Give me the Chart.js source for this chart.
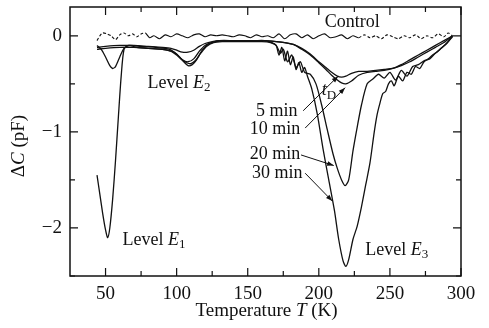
<!DOCTYPE html>
<html>
<head>
<meta charset="utf-8">
<script src="https://cdn.jsdelivr.net/npm/chart.js@4.4.1/dist/chart.umd.min.js"></script>
<style>
  body { margin: 0; background: #fff; }
</style>
</head>
<body>
<canvas id="myChart" width="489" height="328"></canvas>
<script>
// temperature grids (K) and capacitance change (pF)
const ctrlT = [44, 46, 48, 51, 54, 57, 60, 63, 66, 69, 72, 75, 78, 81, 84, 88, 92, 96, 100, 104,
  108, 112, 116, 120, 124, 128, 132, 136, 140, 144, 148, 152, 156, 160, 164, 168, 172, 176, 180, 184,
  188, 192, 196, 200, 204, 208, 212, 216, 220, 224, 228, 232, 236, 240, 244, 248, 252, 256, 260, 264,
  268, 272, 276, 280, 284, 288, 291, 294];
const ctrlV = [-0.05, 0.0, 0.03, 0.02, 0.0, -0.04, 0.01, 0.03, 0.0, 0.02, -0.01, 0.02, 0.03, -0.02, 0.0, -0.03, 0.01, -0.01, 0.02, 0.0,
  -0.02, 0.01, 0.02, -0.01, 0.01, 0.0, 0.01, 0.0, -0.01, 0.01, 0.0, -0.02, 0.01, -0.01, 0.0, -0.02, 0.02, -0.03, 0.01, 0.02,
  -0.02, 0.01, -0.03, 0.0, 0.02, -0.02, -0.01, 0.01, -0.03, 0.0, -0.02, 0.01, -0.02, 0.0, -0.03, 0.01, -0.01, -0.03, 0.0, -0.02,
  0.01, -0.03, 0.0, -0.02, 0.02, -0.01, 0.03, 0.0];

const tShort = [44, 50, 60, 70, 80, 90, 96, 100, 104, 108, 112, 116, 120, 125, 130, 140, 150, 160, 170, 176,
  182, 188, 194, 200, 205, 209, 213, 216, 219, 223, 228, 234, 240, 246, 252, 258, 264, 270, 276, 282, 288, 294];
const v5min = [-0.12, -0.11, -0.1, -0.1, -0.11, -0.12, -0.13, -0.15, -0.17, -0.17, -0.15, -0.11, -0.08, -0.06, -0.05, -0.05, -0.05, -0.05, -0.06, -0.07,
  -0.09, -0.13, -0.19, -0.27, -0.33, -0.38, -0.42, -0.43, -0.42, -0.39, -0.37, -0.37, -0.36, -0.35, -0.34, -0.31, -0.27, -0.22, -0.17, -0.12, -0.07, 0.0];
const v10min = [-0.14, -0.13, -0.12, -0.12, -0.13, -0.14, -0.16, -0.2, -0.25, -0.27, -0.24, -0.16, -0.1, -0.07, -0.05, -0.05, -0.05, -0.05, -0.06, -0.07,
  -0.09, -0.14, -0.2, -0.28, -0.35, -0.41, -0.46, -0.49, -0.5, -0.47, -0.41, -0.38, -0.37, -0.36, -0.34, -0.3, -0.25, -0.2, -0.15, -0.1, -0.05, 0.0];

const t20 = [44, 47, 50, 53, 55, 57, 60, 63, 67, 75, 85, 95, 100, 104, 107, 110, 113, 117, 121, 126,
  132, 140, 150, 160, 166, 170, 173, 175, 178, 181, 184, 187, 190, 194, 198, 202, 206, 210, 213, 216,
  218.5, 221, 224, 227, 230, 234, 238, 242, 246, 250, 254, 258, 262, 266, 270, 274, 278, 282, 286, 290, 294];
const v20min = [-0.1, -0.14, -0.22, -0.31, -0.34, -0.32, -0.22, -0.13, -0.1, -0.11, -0.12, -0.14, -0.19, -0.25, -0.28, -0.29, -0.26, -0.18, -0.11, -0.07,
  -0.06, -0.06, -0.06, -0.06, -0.07, -0.1, -0.18, -0.14, -0.27, -0.2, -0.33, -0.27, -0.38, -0.4, -0.5, -0.72, -0.98, -1.23, -1.38, -1.5,
  -1.56, -1.5, -1.2, -0.95, -0.72, -0.5, -0.45, -0.4, -0.44, -0.38, -0.46, -0.36, -0.42, -0.32, -0.3, -0.26, -0.24, -0.18, -0.13, -0.08, -0.01];

const t30 = [44, 46, 48, 50, 51.5, 53, 55, 57, 59, 61, 63, 66, 72, 80, 90, 98, 102, 105, 108, 111,
  114, 118, 122, 127, 135, 145, 155, 162, 167, 170, 172, 174, 176, 178, 180, 182, 184, 186, 188, 190,
  192, 195, 199, 203, 207, 211, 214, 217, 219, 221, 224, 227, 230, 233, 236, 239, 241, 243, 245, 247,
  249, 251, 253, 256, 259, 262, 265, 268, 271, 274, 277, 280, 283, 286, 289, 292, 294];
const v30min = [-1.45, -1.65, -1.85, -2.02, -2.1, -2.0, -1.7, -1.3, -0.85, -0.42, -0.14, -0.1, -0.12, -0.13, -0.14, -0.17, -0.22, -0.27, -0.31, -0.3,
  -0.25, -0.15, -0.09, -0.06, -0.05, -0.05, -0.05, -0.05, -0.07, -0.1, -0.2, -0.12, -0.26, -0.16, -0.3, -0.22, -0.35, -0.28, -0.38, -0.33,
  -0.42, -0.55, -0.82, -1.18, -1.5, -1.82, -2.12, -2.34, -2.4, -2.33, -2.12, -1.98, -1.78, -1.55, -1.32, -1.0, -0.82, -0.7, -0.6, -0.58,
  -0.5, -0.47, -0.52, -0.42, -0.47, -0.38, -0.4, -0.32, -0.34, -0.27, -0.24, -0.2, -0.17, -0.13, -0.09, -0.04, 0.0];

const xMajor = [50, 100, 150, 200, 250, 300];
const xMinor = [75, 125, 175, 225, 275];
const yMajor = [-2, -1, 0];
const yMinor = [-2.5, -1.5, -0.5];

const SERIF = '"Liberation Serif", "DejaVu Serif", serif';

function pairs(xs, ys) {
  const out = [];
  for (let i = 0; i < Math.min(xs.length, ys.length); i++) out.push({ x: xs[i], y: ys[i] });
  return out;
}

// text pieces: [text, style] with style 'n', 'i' (italic) or 's' (subscript)
function richText(c, parts, x, y, align, size) {
  const fonts = { n: size + 'px ' + SERIF, i: 'italic ' + size + 'px ' + SERIF, s: Math.round(size * 0.7) + 'px ' + SERIF };
  let w = 0;
  parts.forEach(p => { c.font = fonts[p[1]]; w += c.measureText(p[0]).width; });
  let cx = align === 'right' ? x - w : align === 'center' ? x - w / 2 : x;
  parts.forEach(p => {
    c.font = fonts[p[1]];
    c.fillText(p[0], cx, p[1] === 's' ? y + size * 0.25 : y);
    cx += c.measureText(p[0]).width;
  });
}

const labels = [
  { T: 223.5, v: 0.14, align: 'center', parts: [['Control', 'n']] },
  { T: 79.5, v: -0.49, align: 'left', parts: [['Level ', 'n'], ['E', 'i'], ['2', 's']] },
  { T: 202, v: -0.57, align: 'left', parts: [['t', 'i'], ['D', 's']] },
  { T: 185, v: -0.79, align: 'right', parts: [['5 min', 'n']] },
  { T: 187, v: -0.97, align: 'right', parts: [['10 min', 'n']] },
  { T: 187, v: -1.23, align: 'right', parts: [['20 min', 'n']] },
  { T: 188.5, v: -1.43, align: 'right', parts: [['30 min', 'n']] },
  { T: 62, v: -2.13, align: 'left', parts: [['Level ', 'n'], ['E', 'i'], ['1', 's']] },
  { T: 232.6, v: -2.23, align: 'left', parts: [['Level ', 'n'], ['E', 'i'], ['3', 's']] }
];
const arrows = [
  { from: [189, -0.78], to: [213.6, -0.42] },
  { from: [190.4, -0.96], to: [218.5, -0.54] },
  { from: [187.5, -1.24], to: [210.5, -1.35] },
  { from: [190.4, -1.43], to: [209.5, -1.72] }
];

const decor = {
  id: 'decor',
  afterDraw(chart) {
    const c = chart.ctx, a = chart.chartArea;
    const xs = chart.scales.x, ys = chart.scales.y;
    c.save();
    c.strokeStyle = '#111';
    c.lineWidth = 1.5;
    c.strokeRect(a.left, a.top, a.right - a.left, a.bottom - a.top);
    c.lineWidth = 1.2;
    const tick = (vals, len, axis) => vals.forEach(v => {
      c.beginPath();
      if (axis === 'x') {
        const p = xs.getPixelForValue(v);
        c.moveTo(p, a.bottom); c.lineTo(p, a.bottom - len);
        c.moveTo(p, a.top); c.lineTo(p, a.top + len);
      } else {
        const p = ys.getPixelForValue(v);
        c.moveTo(a.left, p); c.lineTo(a.left + len, p);
        c.moveTo(a.right, p); c.lineTo(a.right - len, p);
      }
      c.stroke();
    });
    tick(xMajor, 8, 'x'); tick(xMinor, 5, 'x');
    tick(yMajor, 8, 'y'); tick(yMinor, 5, 'y');

    c.fillStyle = '#111';
    c.textBaseline = 'middle';
    labels.forEach(l => richText(c, l.parts, xs.getPixelForValue(l.T), ys.getPixelForValue(l.v), l.align, 18));

    c.lineWidth = 1;
    arrows.forEach(ar => {
      const x0 = xs.getPixelForValue(ar.from[0]), y0 = ys.getPixelForValue(ar.from[1]);
      const x1 = xs.getPixelForValue(ar.to[0]), y1 = ys.getPixelForValue(ar.to[1]);
      const ang = Math.atan2(y1 - y0, x1 - x0);
      c.beginPath(); c.moveTo(x0, y0); c.lineTo(x1, y1); c.stroke();
      c.beginPath();
      c.moveTo(x1, y1);
      c.lineTo(x1 - 7 * Math.cos(ang - 0.35), y1 - 7 * Math.sin(ang - 0.35));
      c.lineTo(x1 - 7 * Math.cos(ang + 0.35), y1 - 7 * Math.sin(ang + 0.35));
      c.closePath(); c.fill();
    });

    // axis titles
    c.textBaseline = 'middle';
    richText(c, [['Temperature ', 'n'], ['T', 'i'], [' (K)', 'n']], (a.left + a.right) / 2 + 1, 311, 'center', 19);
    c.translate(19, 146);
    c.rotate(-Math.PI / 2);
    richText(c, [['\u0394', 'n'], ['C', 'i'], [' (pF)', 'n']], 0, 0, 'center', 19);
    c.restore();
  }
};

const line = (data, extra) => Object.assign({
  data: data,
  borderColor: '#111',
  borderWidth: 1.3,
  pointRadius: 0,
  tension: 0.25,
  fill: false
}, extra || {});

new Chart(document.getElementById('myChart'), {
  type: 'line',
  data: {
    datasets: [
      line(pairs(ctrlT, ctrlV), {
        label: 'Control', borderWidth: 1.1,
        segment: { borderDash: s => (s.p0.parsed.x < 78 || s.p0.parsed.x > 225) ? [3, 2] : undefined }
      }),
      line(pairs(tShort, v5min), { label: '5 min' }),
      line(pairs(tShort, v10min), { label: '10 min' }),
      line(pairs(t20, v20min), { label: '20 min' }),
      line(pairs(t30, v30min), { label: '30 min' })
    ]
  },
  options: {
    responsive: false,
    animation: false,
    layout: { padding: { top: 7, right: 28, left: 0, bottom: 0 } },
    plugins: { legend: { display: false }, tooltip: { enabled: false } },
    scales: {
      x: {
        type: 'linear', min: 25, max: 300,
        grid: { display: false, drawTicks: false },
        border: { display: false },
        afterBuildTicks: s => { s.ticks = xMajor.map(v => ({ value: v })); },
        afterFit: s => { s.height = 52; },
        ticks: { color: '#111', padding: 7, font: { family: SERIF, size: 19 }, autoSkip: false, maxRotation: 0 }
      },
      y: {
        type: 'linear', min: -2.5, max: 0.3,
        grid: { display: false, drawTicks: false },
        border: { display: false },
        afterBuildTicks: s => { s.ticks = yMajor.map(v => ({ value: v })); },
        afterFit: s => { s.width = 70; s.paddingTop = 0; s.paddingBottom = 0; },
        ticks: {
          color: '#111', padding: 8, font: { family: SERIF, size: 19 },
          callback: v => v === 0 ? '0' : '\u2212' + Math.abs(v)
        }
      }
    }
  },
  plugins: [decor]
});
</script>
</body>
</html>
